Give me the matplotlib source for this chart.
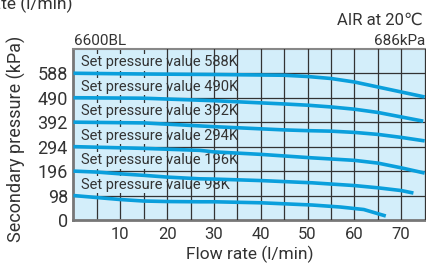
import matplotlib.pyplot as plt
import numpy as np

# curve data (flow in l/min, pressure in kPa)
flow_588 = [0, 15, 30, 45, 50, 55, 60, 65, 70, 75]
pres_588 = [588, 585, 583, 580, 575, 567, 553, 533, 513, 493]
flow_490 = [0, 15, 30, 45, 50, 55, 60, 65, 70, 74.7]
pres_490 = [490, 488, 478, 465, 460, 453, 444, 431, 413, 396]
flow_392 = [0, 15, 30, 45, 50, 55, 60, 65, 70, 75]
pres_392 = [392, 389, 374, 361, 358, 356, 351, 343, 331, 317]
flow_294 = [0, 15, 27, 30, 40, 51, 60, 65, 70, 75]
pres_294 = [294, 287, 279, 273, 263, 249, 239, 228, 209, 188]
flow_196 = [0, 5, 10, 15, 20, 27, 30, 40, 51, 60, 65, 70, 72.6]
pres_196 = [196, 192, 185, 179, 172, 165, 164, 158, 149, 138, 129, 118, 108]
flow_98 = [0, 5, 10, 15, 20, 27, 30, 40, 51, 57, 62, 66.7]
pres_98 = [98, 90, 82, 76, 74, 73, 73, 69, 60, 52, 42, 16]

curves = [(flow_588, pres_588), (flow_490, pres_490), (flow_392, pres_392),
          (flow_294, pres_294), (flow_196, pres_196), (flow_98, pres_98)]
set_values = [588, 490, 392, 294, 196, 98]
y_ticks = [0, 98, 196, 294, 392, 490, 588]
x_ticks = [10, 20, 30, 40, 50, 60, 70]

fam = ['Roboto', 'DejaVu Sans']
bg = '#d3eefa'
line_col = '#0a9fdc'
grid_col = '#333333'
txt_col = '#333333'

fig = plt.figure(figsize=(4.27, 2.63), dpi=100)
ax = fig.add_axes([73.5 / 427, 43 / 263, 1 - 73.5 / 427, 171.2 / 263])
ax.set_facecolor(bg)
ax.set_xlim(0, 75.5)
ax.set_ylim(0, 686)

# horizontal grid at set values
for v in y_ticks[1:]:
    ax.axhline(v, color=grid_col, lw=0.9, zorder=1)
# vertical grid every 5 l/min, the first three sit behind the labels
for gx in np.arange(5, 80, 5):
    ax.axvline(gx, color=grid_col, lw=0.9, zorder=1 if gx < 20 else 4)

for (fx, py), sv in zip(curves, set_values):
    ax.plot(fx, py, color=line_col, lw=2.6, solid_capstyle='butt', zorder=5)
    ax.text(1.5, sv + 44, 'Set pressure value %dK' % sv, fontsize=10.5,
            family=fam, color=txt_col, va='center', ha='left', zorder=3,
            bbox=dict(facecolor=bg, edgecolor='none', pad=1.0))

ax.set_xticks(x_ticks)
ax.set_xticklabels([str(t) for t in x_ticks], family=fam, fontsize=12, color=txt_col)
ax.set_yticks(y_ticks)
ax.set_yticklabels([str(t) for t in y_ticks], family=fam, fontsize=13, color=txt_col)
ax.tick_params(length=0, pad=4)
ax.tick_params(axis='x', pad=5)

for s in ['left', 'bottom']:
    ax.spines[s].set_color('#777777')
    ax.spines[s].set_linewidth(2)
ax.spines['top'].set_color('#888888')
ax.spines['top'].set_linewidth(1.5)
ax.spines['right'].set_visible(False)

fig.text(0.5 + 0.5 * 73.5 / 427, 3.5 / 263, 'Flow rate (l/min)', family=fam,
         fontsize=12.5, color=txt_col, ha='center', va='baseline')
fig.text(16.5 / 427, 124 / 263, 'Secondary pressure (kPa)', family=fam,
         fontsize=13, color=txt_col, ha='center', va='center', rotation=90)
fig.text(73 / 427, 1 - 9 / 263, 'Flow rate (l/min)', family=fam,
         fontsize=12.5, color=txt_col, ha='right', va='baseline')
fig.text(74 / 427, 1 - 45 / 263, '6600BL', family=fam, fontsize=11,
         color=txt_col, ha='left', va='baseline')
fig.text(423 / 427, 1 - 25 / 263, 'AIR at 20\u2103', family=fam, fontsize=12,
         color=txt_col, ha='right', va='baseline')
fig.text(425 / 427, 1 - 45 / 263, '686kPa', family=fam, fontsize=11,
         color=txt_col, ha='right', va='baseline')

fig.savefig('out.png', dpi=100)
